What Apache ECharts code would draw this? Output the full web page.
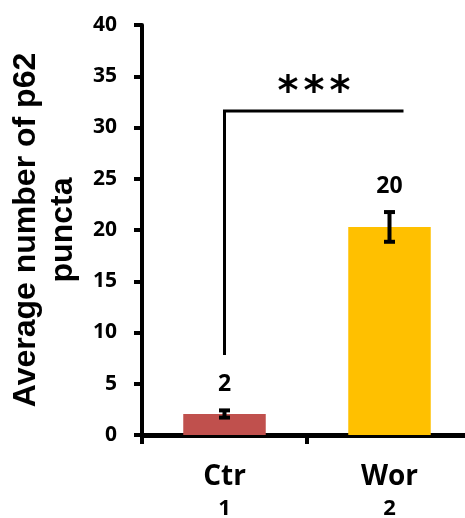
<!DOCTYPE html>
<html>
<head>
<meta charset="utf-8">
<script src="https://cdn.jsdelivr.net/npm/echarts@6/dist/echarts.min.js"></script>
<style>
  html, body { margin: 0; padding: 0; background: #ffffff; }
  #chart { width: 465px; height: 518px; }
</style>
</head>
<body>
<div id="chart"></div>
<script>
// Groups and their numbers shown under each bar
const categories = ['Ctr', 'Wor'];
const groupIds = ['1', '2'];
// Mean p62 puncta per group and its error (±)
const means = [2.05, 20.3];
const errors = [0.35, 1.45];
const barColors = ['#C0504D', '#FFC000'];
// Value axis
const yMin = 0, yMax = 40, yStep = 5;
// Significance bracket between the two groups
const sigLevel = 31.6;
const sigBase = 7.8;
const sigMark = '***';

const chart = echarts.init(document.getElementById('chart'), null, { renderer: 'canvas' });

const numFont = 'Open Sans';

chart.setOption({
  animation: false,
  grid: { left: 142, top: 25, width: 330, bottom: 83, outerBoundsMode: 'none', containLabel: false },
  xAxis: {
    type: 'category',
    data: categories.map((c, i) => c + '\n' + groupIds[i]),
    axisLine: { lineStyle: { color: '#000', width: 5 } },
    axisTick: { show: true, length: 9, lineStyle: { color: '#000', width: 4 } },
    axisLabel: {
      margin: 23,
      formatter: v => {
        const [name, id] = v.split('\n');
        return '{n|' + name + '}\n{i|' + id + '}';
      },
      rich: {
        n: { fontFamily: numFont, fontWeight: 700, fontSize: 28, lineHeight: 38, color: '#000' },
        i: { fontFamily: numFont, fontWeight: 700, fontSize: 22, lineHeight: 26, color: '#000' }
      }
    }
  },
  yAxis: {
    type: 'value',
    min: yMin, max: yMax, interval: yStep,
    name: 'Average number of p62\npuncta',
    nameLocation: 'middle',
    nameRotate: 90,
    nameGap: 59,
    nameTextStyle: {
      fontFamily: 'Liberation Sans', fontWeight: 'bold', fontSize: 32,
      lineHeight: 37, color: '#000', align: 'center'
    },
    axisLine: { show: true, lineStyle: { color: '#000', width: 4 } },
    axisTick: { show: true, length: 8, lineStyle: { color: '#000', width: 4 } },
    axisLabel: { margin: 25, fontFamily: numFont, fontWeight: 700, fontSize: 21, color: '#000' },
    splitLine: { show: false }
  },
  series: [
    {
      type: 'bar',
      barWidth: '50%',
      data: means.map((m, i) => ({ value: m, itemStyle: { color: barColors[i] } }))
    },
    {
      // error bars with the rounded mean written above each one
      type: 'custom',
      encode: { x: 0, y: 1 },
      data: means.map((m, i) => [i, m, errors[i]]),
      z: 5,
      renderItem: (params, api) => {
        const i = api.value(0), m = api.value(1), e = api.value(2);
        const hi = api.coord([i, m + e]);
        const lo = api.coord([i, m - e]);
        const half = 5.5;
        const style = { stroke: '#000', lineWidth: 4 };
        return {
          type: 'group',
          children: [
            { type: 'line', shape: { x1: hi[0], y1: hi[1], x2: lo[0], y2: lo[1] }, style },
            { type: 'line', shape: { x1: hi[0] - half, y1: hi[1], x2: hi[0] + half, y2: hi[1] }, style },
            { type: 'line', shape: { x1: lo[0] - half, y1: lo[1], x2: lo[0] + half, y2: lo[1] }, style },
            {
              type: 'text',
              x: hi[0], y: hi[1] - 26,
              style: {
                text: Math.round(m).toString(),
                fontFamily: numFont, fontWeight: 700, fontSize: 23,
                fill: '#000', align: 'center', verticalAlign: 'middle'
              }
            }
          ]
        };
      }
    },
    {
      // significance bracket with its stars spread evenly over the span
      type: 'custom',
      encode: { x: 0, y: 1 },
      data: [[0, sigLevel, sigBase]],
      z: 5,
      renderItem: (params, api) => {
        const level = api.value(1), base = api.value(2);
        const a = api.coord([0, base]);
        const b = api.coord([0, level]);
        const c = api.coord([1, level]);
        const xEnd = c[0] + 14;
        const mid = (b[0] + xEnd) / 2;
        const chars = sigMark.split('');
        const gap = 26;
        const stars = chars.map((ch, k) => ({
          type: 'text',
          x: mid + (k - (chars.length - 1) / 2) * gap,
          y: b[1] - 17,
          style: {
            text: ch,
            fontFamily: 'DejaVu Sans', fontWeight: 'bold', fontSize: 40,
            fill: '#000', align: 'center', verticalAlign: 'middle'
          }
        }));
        return {
          type: 'group',
          children: [
            {
              type: 'polyline',
              shape: { points: [[a[0], a[1]], [b[0], b[1]], [xEnd, c[1]]] },
              style: { stroke: '#000', lineWidth: 3, fill: null, lineJoin: 'miter' }
            }
          ].concat(stars)
        };
      }
    }
  ]
});
</script>
</body>
</html>
